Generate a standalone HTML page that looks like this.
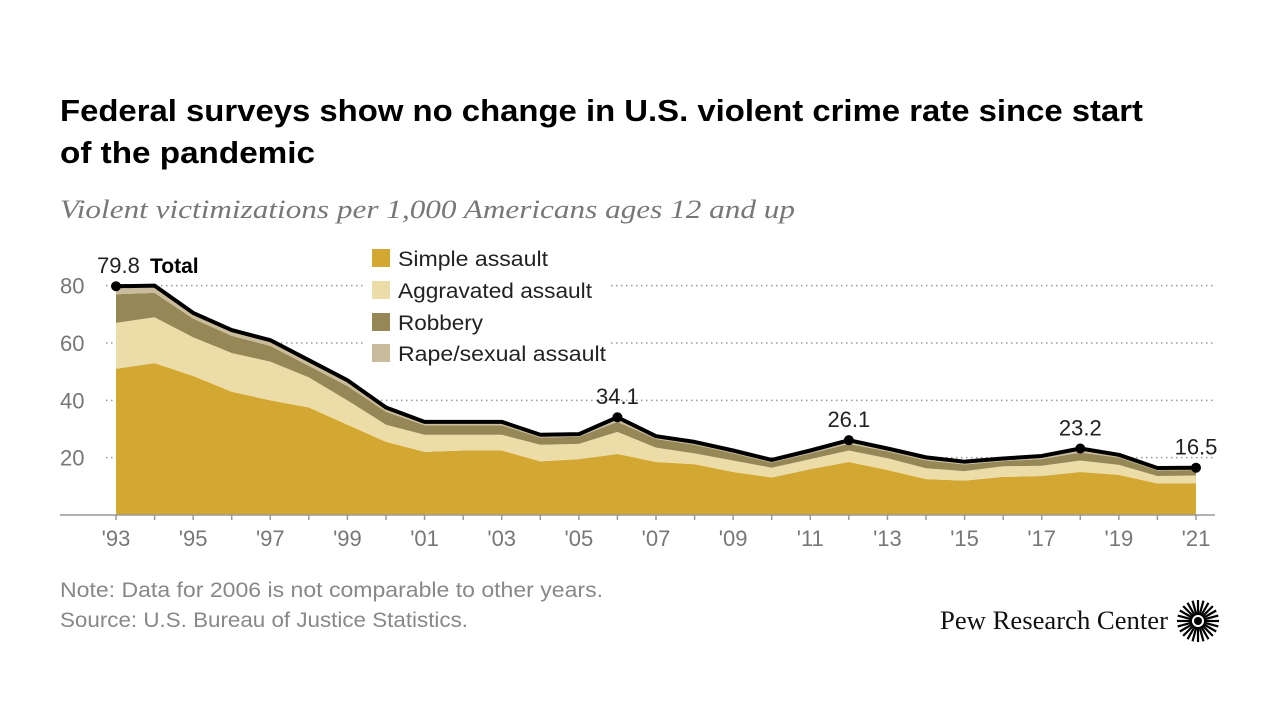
<!DOCTYPE html>
<html><head><meta charset="utf-8"><style>
body{margin:0;background:#fff;font-family:"Liberation Sans",sans-serif;}
</style></head><body>
<svg width="1280" height="720" xmlns="http://www.w3.org/2000/svg">
<text x="60" y="121" font-size="31" font-weight="bold" fill="#000" textLength="1083" lengthAdjust="spacingAndGlyphs">Federal surveys show no change in U.S. violent crime rate since start</text>
<text x="60" y="163" font-size="31" font-weight="bold" fill="#000" textLength="255" lengthAdjust="spacingAndGlyphs">of the pandemic</text>
<text x="60" y="218" font-size="26" font-style="italic" font-family="Liberation Serif,serif" fill="#777" textLength="735" lengthAdjust="spacingAndGlyphs">Violent victimizations per 1,000 Americans ages 12 and up</text>
<g id="grid"></g><g id="areas"></g><g id="axes"></g><g id="labels"></g>
<rect x="364" y="244" width="246" height="122" fill="#fff"/>
<g font-size="21" fill="#222">
<rect x="372" y="249" width="18" height="18" fill="#d2a833"/><text x="398" y="266" textLength="150" lengthAdjust="spacingAndGlyphs">Simple assault</text>
<rect x="372" y="281" width="18" height="18" fill="#ecdca8"/><text x="398" y="298" textLength="194" lengthAdjust="spacingAndGlyphs">Aggravated assault</text>
<rect x="372" y="313" width="18" height="18" fill="#958756"/><text x="398" y="330" textLength="85" lengthAdjust="spacingAndGlyphs">Robbery</text>
<rect x="372" y="344" width="18" height="18" fill="#c8bc9c"/><text x="398" y="361" textLength="208" lengthAdjust="spacingAndGlyphs">Rape/sexual assault</text>
</g>
<text x="60" y="597" font-size="21" fill="#888" textLength="543" lengthAdjust="spacingAndGlyphs">Note: Data for 2006 is not comparable to other years.</text>
<text x="60" y="627" font-size="21" fill="#888" textLength="408" lengthAdjust="spacingAndGlyphs">Source: U.S. Bureau of Justice Statistics.</text>
<text x="940" y="629" font-size="26" font-family="Liberation Serif,serif" fill="#111" textLength="228" lengthAdjust="spacingAndGlyphs">Pew Research Center</text>
<g transform="translate(1198,621)" id="logo"></g>
</svg>
<script>
const years=[1993,1994,1995,1996,1997,1998,1999,2000,2001,2002,2003,2004,2005,2006,2007,2008,2009,2010,2011,2012,2013,2014,2015,2016,2017,2018,2019,2020,2021];
const simple=[51,53,48.5,43,40,37.5,31.5,25.5,22,22.5,22.5,18.7,19.5,21.3,18.5,17.7,15,13.1,16,18.5,15.7,12.5,12,13.3,13.6,15,14,11,11];
const aggravated=[16,16,13.5,13.5,13.5,10.5,8.5,6,6,5.5,5.5,5.8,5.3,7.7,5,3.8,4,3.4,3.5,4,4.1,3.8,3.3,3.7,3.6,4,3.5,2.6,2.8];
const robbery=[10,8.5,6.5,6,5.5,4,5,4.5,3.3,3.3,3.3,2.5,2.5,3.5,3,3,2.5,1.8,2,2.3,2.4,2.7,2.3,1.8,2.3,2.8,2.5,1.9,1.9];
const total=[79.8,80,70.5,64.5,61,54,47,37.5,32.5,32.5,32.5,28,28.2,34.1,27.5,25.5,22.5,19.2,22.5,26.1,23.2,20.1,18.6,19.7,20.6,23.2,21,16.4,16.5];
const yTicks=[20,40,60,80];
const xTickLabels=["'93","'95","'97","'99","'01","'03","'05","'07","'09","'11","'13","'15","'17","'19","'21"];
const labeled=[{i:0,t:"79.8"},{i:13,t:"34.1"},{i:19,t:"26.1"},{i:25,t:"23.2"},{i:28,t:"16.5"}];
const NS="http://www.w3.org/2000/svg";
const x=y=>116+(y-1993)*(1080/28);
const yS=v=>515-v*172/60;
function mk(tag,attrs,parent){const e=document.createElementNS(NS,tag);for(const k in attrs)e.setAttribute(k,attrs[k]);document.getElementById(parent).appendChild(e);return e;}
yTicks.forEach(v=>{
 const l=mk('line',{x1:106,x2:1215,y1:yS(v),y2:yS(v),stroke:'#999','stroke-width':1.5,'stroke-dasharray':'1.5,3.5'},'grid');
 
 
 const t=mk('text',{x:60,y:yS(v)+8,'font-size':22,fill:'#777'},'axes');t.textContent=v;
 
 
});
const rape=total.map((t,i)=>t-simple[i]-aggravated[i]-robbery[i]);
const layers=[[simple,'#d2a833','area-simple-assault'],[aggravated,'#ecdca8','area-aggravated-assault'],[robbery,'#958756','area-robbery'],[rape,'#c8bc9c','area-rape-sexual-assault']];
let base=years.map(()=>0);
layers.forEach(([vals,col,name])=>{
 const top=base.map((b,i)=>b+vals[i]);
 let d='M'+years.map((y,i)=>x(y)+','+yS(top[i])).join('L');
 for(let i=years.length-1;i>=0;i--)d+='L'+x(years[i])+','+yS(base[i]);
 const p=mk('path',{d:d+'Z',fill:col},'areas');
 
 
 base=top;
});
const tl=mk('path',{d:'M'+years.map((y,i)=>x(y)+','+yS(total[i])).join('L'),fill:'none',stroke:'#000','stroke-width':4,'stroke-linejoin':'round'},'areas');


const ax=mk('line',{x1:60,x2:1215,y1:515,y2:515,stroke:'#999','stroke-width':1.5},'axes');


years.forEach((y,i)=>{
 const tk=mk('line',{x1:x(y),x2:x(y),y1:515,y2:520,stroke:'#999','stroke-width':1.5},'axes');
 
 
});
xTickLabels.forEach((s,k)=>{
 const t=mk('text',{x:x(1993+2*k),y:546,'font-size':22,fill:'#777','text-anchor':'middle'},'axes');t.textContent=s;
 
 
});
labeled.forEach(o=>{
 const c=mk('circle',{cx:x(years[o.i]),cy:yS(total[o.i]),r:5,fill:'#000'},'labels');
 
 
 const t=mk('text',{x:o.i===0?97:x(years[o.i]),y:yS(total[o.i])-13,'font-size':22,fill:'#222','text-anchor':o.i===0?'start':'middle'},'labels');
 t.textContent=o.t;
 
 
});
const tt=mk('text',{x:150,y:yS(total[0])-13,'font-size':21,'font-weight':'bold',fill:'#000'},'labels');tt.textContent='Total';


for(let a=0;a<24;a++){const r=a*Math.PI/12;const ln=mk('line',{x1:Math.cos(r)*6,y1:Math.sin(r)*6,x2:Math.cos(r)*21,y2:Math.sin(r)*21,stroke:'#000','stroke-width':2.2},'logo');
 
 }
const lc=mk('circle',{cx:0,cy:0,r:4,fill:'#000'},'logo');


</script>
</body></html>
